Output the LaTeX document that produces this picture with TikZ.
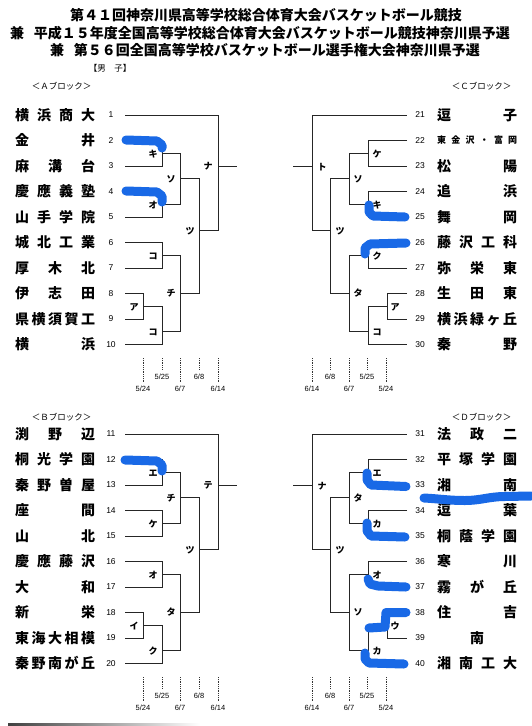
\documentclass[tikz,border=0pt]{standalone}
\usepackage{fontspec}
\setmainfont{Noto Sans CJK JP}
\newfontfamily\numfont{Liberation Sans}
\definecolor{marker}{RGB}{25,105,230}
\newcommand\tm[1]{\makebox[80pt][s]{#1}}
\tikzset{
 br/.style={line width=0.8pt, black!85},
 dt/.style={line width=0.8pt, densely dotted, black!80},
 ttl/.style={font=\bfseries\fontsize{14}{14}\selectfont, inner sep=0},
 hdr/.style={font=\fontsize{8.5}{9}\selectfont, inner sep=0},
 team/.style={font=\bfseries\fontsize{14}{14}\selectfont, inner sep=0, anchor=west},
 smallteam/.style={font=\bfseries\fontsize{9}{9}\selectfont, inner sep=0, anchor=west},
 num/.style={font=\numfont\fontsize{8.5}{9}\selectfont, inner sep=0},
 mlab/.style={font=\bfseries\fontsize{9}{9}\selectfont, inner sep=0},
 dlab/.style={font=\numfont\fontsize{7.5}{8}\selectfont, inner sep=0},
 hl/.style={draw=marker, line width=9pt, line cap=round, line join=round},
}
% bracket lines, left half (A coordinates)
\newcommand\LeftBr{%
 \draw[br] (199,230)--(218,230)--(218,115)--(125,115);
 \draw[br] (218,166)--(237,166);
 \draw[br] (125,140.5)--(162,140.5)--(162,166)--(125,166);
 \draw[br] (125,191.5)--(162,191.5)--(162,217)--(125,217);
 \draw[br] (162,153.25)--(180,153.25)--(180,204.25)--(162,204.25);
 \draw[br] (180,178.75)--(199,178.75)--(199,293)--(180,293);
 \draw[br] (125,242.5)--(162,242.5)--(162,268)--(125,268);
 \draw[br] (125,293.5)--(143,293.5)--(143,319)--(125,319);
 \draw[br] (143,306.25)--(162,306.25)--(162,344.5)--(125,344.5);
 \draw[br] (162,255.25)--(180,255.25)--(180,331)--(162,331);
 \draw[dt] (143,358)--(143,383); \draw[dt] (162,358)--(162,370);
 \draw[dt] (180,358)--(180,383); \draw[dt] (199,358)--(199,370);
 \draw[dt] (218,358)--(218,383);
 \node[dlab] (\pf d1) at (143,389) {5/24};
 \node[dlab] (\pf d2) at (162,377) {5/25};
 \node[dlab] (\pf d3) at (180,389) {6/7};
 \node[dlab] (\pf d4) at (199,377) {6/8};
 \node[dlab] (\pf d5) at (218,389) {6/14};
}
\newcommand\RightBr{%
 \draw[br] (330,230)--(312,230)--(312,115)--(407,115);
 \draw[br] (312,166)--(293,166);
 \draw[br] (407,140.5)--(368,140.5)--(368,166)--(407,166);
 \draw[br] (407,191.5)--(368,191.5)--(368,217)--(407,217);
 \draw[br] (368,153.25)--(349,153.25)--(349,204.25)--(368,204.25);
 \draw[br] (349,178.75)--(330,178.75)--(330,293)--(349,293);
 \draw[br] (407,242.5)--(368,242.5)--(368,268)--(407,268);
 \draw[br] (407,293.5)--(387,293.5)--(387,319)--(407,319);
 \draw[br] (387,306.25)--(368,306.25)--(368,344.5)--(407,344.5);
 \draw[br] (368,255.25)--(349,255.25)--(349,331)--(368,331);
 \draw[dt] (312,358)--(312,383); \draw[dt] (330,358)--(330,370);
 \draw[dt] (349,358)--(349,383); \draw[dt] (367,358)--(367,370);
 \draw[dt] (386,358)--(386,383);
 \node[dlab] (\pf d1) at (312,389) {6/14};
 \node[dlab] (\pf d2) at (330,377) {6/8};
 \node[dlab] (\pf d3) at (349,389) {6/7};
 \node[dlab] (\pf d4) at (367,377) {5/25};
 \node[dlab] (\pf d5) at (386,389) {5/24};
}
\newcommand\LeftLab[9]{%
 \node[mlab] (\pf m1) at (153,154) {#1};
 \node[mlab] (\pf m2) at (153,205) {#2};
 \node[mlab] (\pf m3) at (171,179) {#3};
 \node[mlab] (\pf m4) at (153,256) {#4};
 \node[mlab] (\pf m5) at (134,307) {#5};
 \node[mlab] (\pf m6) at (153,332) {#6};
 \node[mlab] (\pf m7) at (171,293) {#7};
 \node[mlab] (\pf m8) at (190,231) {#8};
 \node[mlab] (\pf m9) at (208,166) {#9};
}
\newcommand\RightLab[9]{%
 \node[mlab] (\pf m1) at (377,154) {#1};
 \node[mlab] (\pf m2) at (377,205) {#2};
 \node[mlab] (\pf m3) at (358,179) {#3};
 \node[mlab] (\pf m4) at (377,256) {#4};
 \node[mlab] (\pf m5) at (395,307) {#5};
 \node[mlab] (\pf m6) at (377,332) {#6};
 \node[mlab] (\pf m7) at (358,293) {#7};
 \node[mlab] (\pf m8) at (340,231) {#8};
 \node[mlab] (\pf m9) at (322,167) {#9};
}
\begin{document}
\begin{tikzpicture}[x=1pt,y=-1pt]
\useasboundingbox[fill=white] (0,0) rectangle (531,726);
% titles
\node[ttl] (ttl1) at (266,15) {第４１回神奈川県高等学校総合体育大会バスケットボール競技};
\node[ttl] (ttl2) at (260,33) {兼\hspace{10pt}平成１５年度全国高等学校総合体育大会バスケットボール競技神奈川県予選};
\node[ttl] (ttl3) at (265,50.5) {兼\hspace{10pt}第５６回全国高等学校バスケットボール選手権大会神奈川県予選};
\node[hdr] (sex) at (110,68.5) {【男　子】};
\node[hdr] (hA) at (61.5,86) {＜Ａブロック＞};
\node[hdr] (hC) at (481.5,86) {＜Ｃブロック＞};
\node[hdr] (hB) at (61.5,417) {＜Ｂブロック＞};
\node[hdr] (hD) at (481.5,417) {＜Ｄブロック＞};
% blocks
\begin{scope}\def\pf{A}\LeftBr\LeftLab{キ}{オ}{ソ}{コ}{ア}{コ}{チ}{ツ}{ナ}\end{scope}
\begin{scope}[shift={(0,319)}]\def\pf{B}\LeftBr\LeftLab{エ}{ケ}{チ}{オ}{イ}{ク}{タ}{ツ}{テ}\end{scope}
\begin{scope}\def\pf{C}\RightBr\RightLab{ケ}{キ}{ソ}{ク}{ア}{コ}{タ}{ツ}{ト}\end{scope}
\begin{scope}[shift={(0,319)}]\def\pf{D}\RightBr\RightLab{エ}{カ}{タ}{オ}{ウ}{カ}{ソ}{ツ}{ナ}\end{scope}
% team numbers
\foreach \i in {1,...,10} {
  \node[num] (n\i) at (111,{115+25.5*(\i-1)}) {\i};
  \pgfmathtruncatemacro\j{\i+10}
  \node[num] (n\j) at (111,{434+25.5*(\i-1)}) {\j};
  \pgfmathtruncatemacro\k{\i+20}
  \node[num] (n\k) at (420,{115+25.5*(\i-1)}) {\k};
  \pgfmathtruncatemacro\l{\i+30}
  \node[num] (n\l) at (420,{434+25.5*(\i-1)}) {\l};
}
% team names A
\node[team] (t1) at (15,115) {\tm{横\hfill 浜\hfill 商\hfill 大}};
\node[team] (t2) at (15,140.5) {\tm{金\hfill 井}};
\node[team] (t3) at (15,166) {\tm{麻\hfill 溝\hfill 台}};
\node[team] (t4) at (15,191.5) {\tm{慶\hfill 應\hfill 義\hfill 塾}};
\node[team] (t5) at (15,217) {\tm{山\hfill 手\hfill 学\hfill 院}};
\node[team] (t6) at (15,242.5) {\tm{城\hfill 北\hfill 工\hfill 業}};
\node[team] (t7) at (15,268) {\tm{厚\hfill 木\hfill 北}};
\node[team] (t8) at (15,293.5) {\tm{伊\hfill 志\hfill 田}};
\node[team] (t9) at (15,319) {\tm{県\hfill 横\hfill 須\hfill 賀\hfill 工}};
\node[team] (t10) at (15,344.5) {\tm{横\hfill 浜}};
% B
\node[team] (t11) at (15,434) {\tm{渕\hfill 野\hfill 辺}};
\node[team] (t12) at (15,459.5) {\tm{桐\hfill 光\hfill 学\hfill 園}};
\node[team] (t13) at (15,485) {\tm{秦\hfill 野\hfill 曽\hfill 屋}};
\node[team] (t14) at (15,510.5) {\tm{座\hfill 間}};
\node[team] (t15) at (15,536) {\tm{山\hfill 北}};
\node[team] (t16) at (15,561.5) {\tm{慶\hfill 應\hfill 藤\hfill 沢}};
\node[team] (t17) at (15,587) {\tm{大\hfill 和}};
\node[team] (t18) at (15,612.5) {\tm{新\hfill 栄}};
\node[team] (t19) at (15,638) {\tm{東\hfill 海\hfill 大\hfill 相\hfill 模}};
\node[team] (t20) at (15,663.5) {\tm{秦\hfill 野\hfill 南\hfill が\hfill 丘}};
% C
\node[team] (t21) at (437,115) {\tm{逗\hfill 子}};
\node[smallteam] (t22) at (437,140.5) {\tm{東\hfill 金\hfill 沢\hfill ・\hfill 富\hfill 岡}};
\node[team] (t23) at (437,166) {\tm{松\hfill 陽}};
\node[team] (t24) at (437,191.5) {\tm{追\hfill 浜}};
\node[team] (t25) at (437,217) {\tm{舞\hfill 岡}};
\node[team] (t26) at (437,242.5) {\tm{藤\hfill 沢\hfill 工\hfill 科}};
\node[team] (t27) at (437,268) {\tm{弥\hfill 栄\hfill 東}};
\node[team] (t28) at (437,293.5) {\tm{生\hfill 田\hfill 東}};
\node[team] (t29) at (437,319) {\tm{横\hfill 浜\hfill 緑\hfill ヶ\hfill 丘}};
\node[team] (t30) at (437,344.5) {\tm{秦\hfill 野}};
% D
\node[team] (t31) at (437,434) {\tm{法\hfill 政\hfill 二}};
\node[team] (t32) at (437,459.5) {\tm{平\hfill 塚\hfill 学\hfill 園}};
\node[team] (t33) at (437,485) {\tm{湘\hfill 南}};
\node[team] (t34) at (437,510.5) {\tm{逗\hfill 葉}};
\node[team] (t35) at (437,536) {\tm{桐\hfill 蔭\hfill 学\hfill 園}};
\node[team] (t36) at (437,561.5) {\tm{寒\hfill 川}};
\node[team] (t37) at (437,587) {\tm{霧\hfill が\hfill 丘}};
\node[team] (t38) at (437,612.5) {\tm{住\hfill 吉}};
\node[team] (t39) at (437,638) {\tm{\hfill 南\hfill}};
\node[team] (t40) at (437,663.5) {\tm{湘\hfill 南\hfill 工\hfill 大}};
% blue marker strokes
\draw[hl] (126,140) -- (157,141) -- (162,145) -- (162,148);
\draw[hl] (126,191) -- (157,192) -- (162,196) -- (162,202);
\draw[hl] (369,205) -- (369,212) -- (373,216) -- (405,217);
\draw[hl] (406,243) -- (370,244) -- (365,248) -- (365,254);
\draw[hl] (125,460) -- (157,461) -- (162,465) -- (162,471);
\draw[hl] (367,473) -- (367,480) -- (371,485) -- (406,486.5);
\draw[hl] (424,498) to[out=-3,in=180] (465,500.5) to[out=0,in=180] (505,496.5) -- (531,496);
\draw[hl] (367,523) -- (367,531) -- (371,536) -- (405,537);
\draw[hl] (368,579) -- (370,584) -- (378,586) -- (406,587);
\draw[hl] (406,612.5) -- (386,612.5) -- (385,627) -- (369,628);
\draw[hl] (365,653) -- (365,659) -- (369,663) -- (404,664);
% scan edge at bottom
\shade[left color=black!75, right color=white] (8,723.5) rectangle (200,726);
\end{tikzpicture}
\end{document}
